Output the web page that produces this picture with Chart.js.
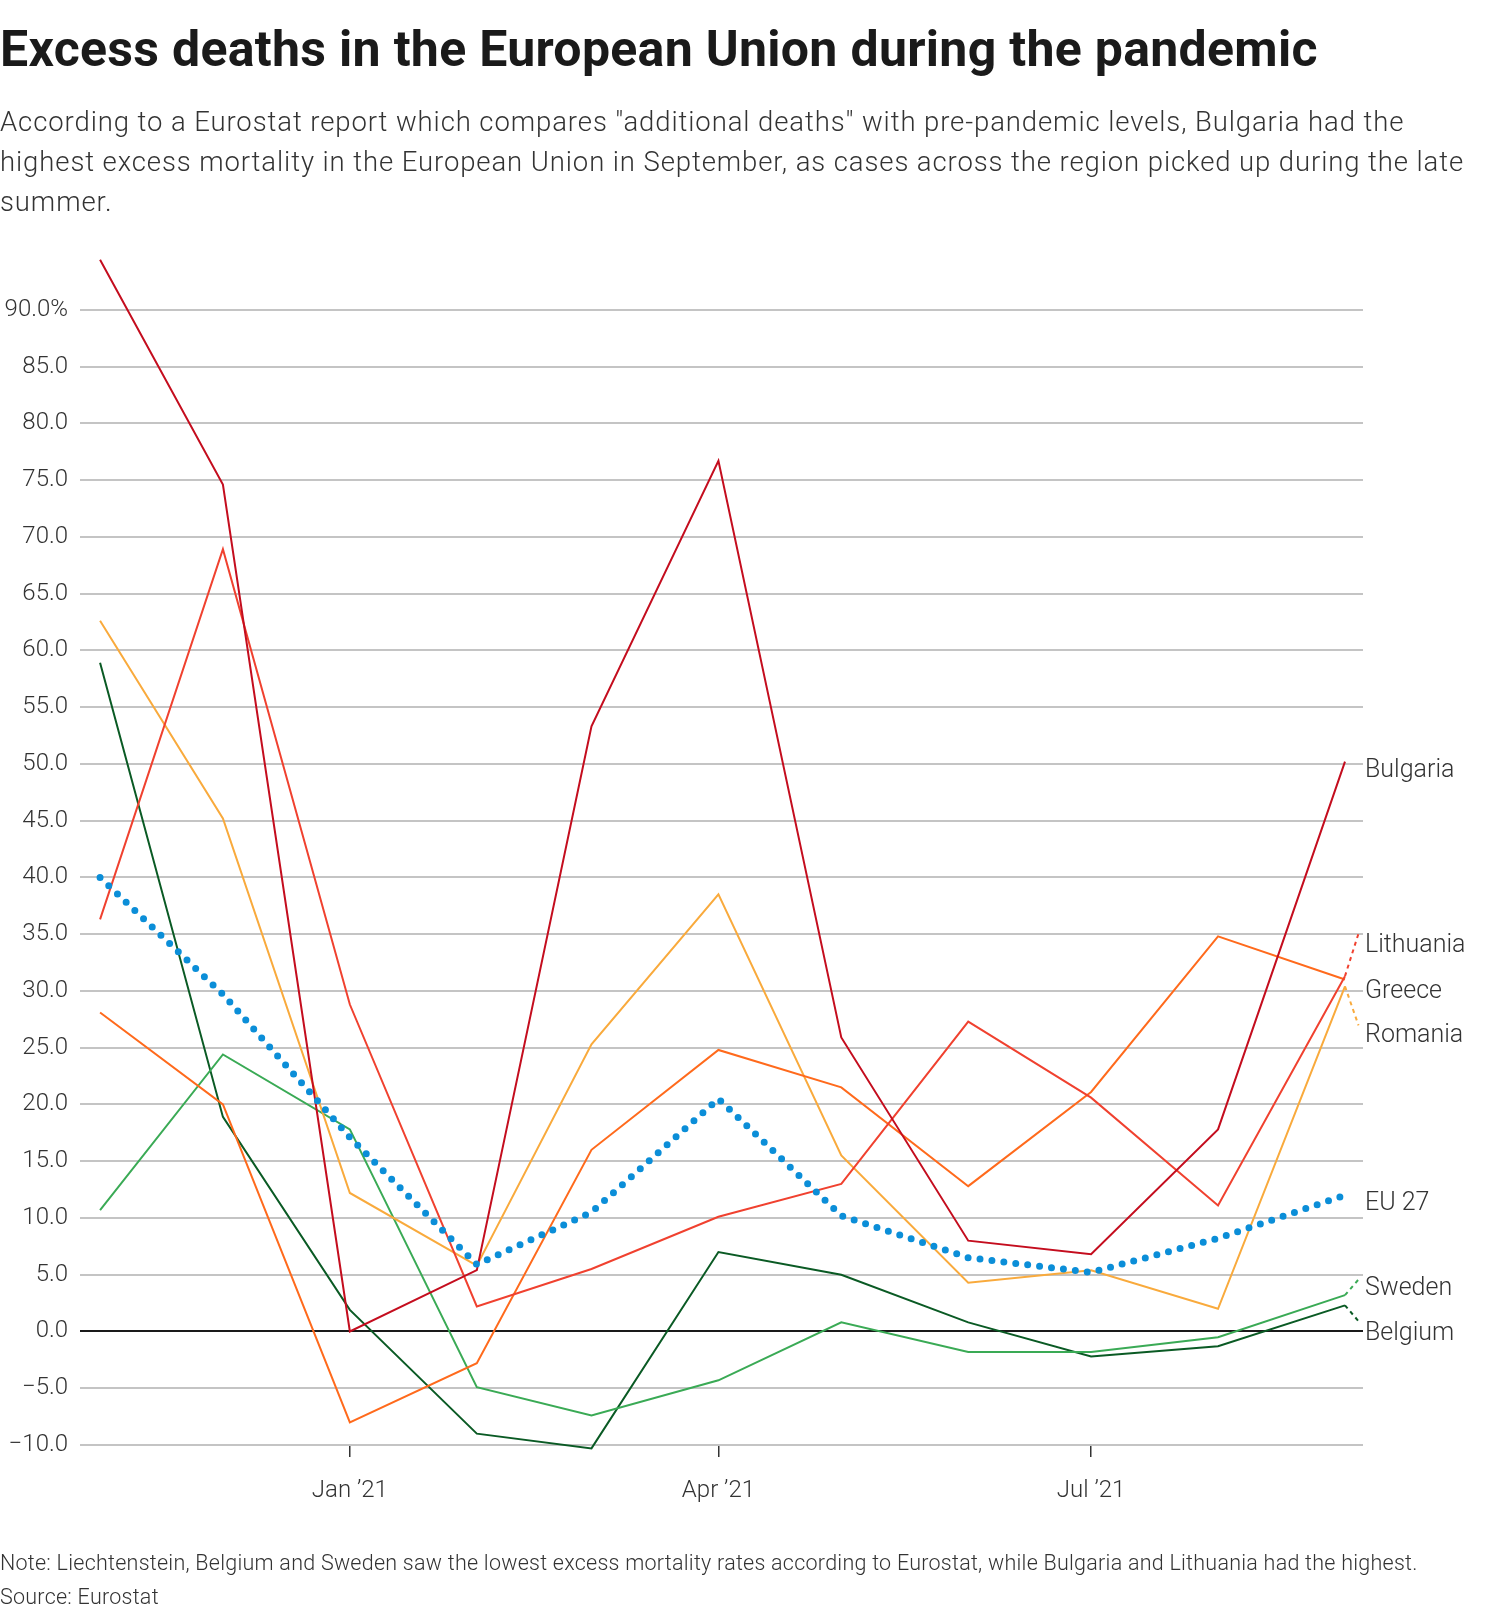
<!DOCTYPE html>
<html>
<head>
<meta charset="utf-8">
<script src="https://cdn.jsdelivr.net/npm/chart.js@4.4.0/dist/chart.umd.min.js"></script>
<style>
  html, body { margin: 0; padding: 0; background: #fff; }
  body { width: 1490px; height: 1616px; position: relative; overflow: hidden; font-family: Roboto, sans-serif; color: #333; }
  #chart { position: absolute; left: 0; top: 0; }
  .title { position: absolute; left: 0; top: 24px; font-size: 50px; line-height: 50px; font-weight: 700; letter-spacing: 0.3px; color: #1a1a1a; white-space: nowrap; }
  .sub { position: absolute; left: 0; top: 102px; font-size: 27.5px; line-height: 40px; font-weight: 300; letter-spacing: 0.9px; color: #333; white-space: nowrap; }
  .note { position: absolute; left: 0; top: 1546px; font-size: 21.5px; line-height: 34px; font-weight: 300; letter-spacing: 0.25px; color: #333; white-space: nowrap; }
</style>
</head>
<body>
<canvas id="chart" width="1490" height="1616"></canvas>
<div class="title">Excess deaths in the European Union during the pandemic</div>
<div class="sub">According to a Eurostat report which compares "additional deaths" with pre-pandemic levels, Bulgaria had the<br>highest excess mortality in the European Union in September, as cases across the region picked up during the late<br>summer.</div>
<div class="note">Note: Liechtenstein, Belgium and Sweden saw the lowest excess mortality rates according to Eurostat, while Bulgaria and Lithuania had the highest.<br>Source: Eurostat</div>
<script>
// monthly excess mortality, % above 2016-2019 average
const months = ['2020-11-01', '2020-12-01', '2021-01-01', '2021-02-01', '2021-03-01', '2021-04-01',
                '2021-05-01', '2021-06-01', '2021-07-01', '2021-08-01', '2021-09-01'];
const eu27      = [40.0, 29.7, 17.1, 5.9, 10.5, 20.5, 10.2, 6.5, 5.2, 8.2, 12.0];
const bulgaria  = [94.4, 74.6, 0.0, 5.4, 53.3, 76.7, 25.9, 8.0, 6.8, 17.8, 50.2];
const lithuania = [36.3, 68.9, 28.8, 2.2, 5.5, 10.1, 13.0, 27.3, 20.6, 11.1, 31.3];
const greece    = [28.1, 20.0, -8.0, -2.8, 16.0, 24.8, 21.5, 12.8, 21.1, 34.8, 31.0];
const romania   = [62.6, 45.2, 12.2, 5.8, 25.3, 38.5, 15.5, 4.3, 5.4, 2.0, 30.4];
const sweden    = [10.7, 24.4, 17.8, -4.9, -7.4, -4.3, 0.8, -1.8, -1.8, -0.5, 3.2];
const belgium   = [58.9, 18.9, 1.9, -9.0, -10.3, 7.0, 5.0, 0.8, -2.2, -1.3, 2.3];

const tickDates = ['2021-01-01', '2021-04-01', '2021-07-01'];
const tickLabels = ['Jan ’21', 'Apr ’21', 'Jul ’21'];

// end labels: name, value where the label sits, and where its leader line ends (null = none)
const labelNames  = ['Bulgaria', 'Lithuania', 'Greece', 'Romania', 'EU 27', 'Sweden', 'Belgium'];
const labelValues = [49.6, 34.25, 30.2, 26.3, 11.5, 4.0, 0.0];
const leaderEnds  = [null, 35.05, null, 26.97, null, 4.58, 0.91];

const colors = {
  eu27: '#0b8ed8', bulgaria: '#c40d1e', lithuania: '#f0412f', greece: '#ff6a1c',
  romania: '#f9aa3c', sweden: '#3aaa55', belgium: '#0a5a24'
};

const t0 = Date.parse('2020-11-01');
const day = d => (Date.parse(d) - t0) / 86400000;
const pts = vals => vals.map((v, i) => ({ x: day(months[i]), y: v }));
const lastDay = day(months[months.length - 1]);
const leaderDay = lastDay + 3.3;

const series = [
  ['EU 27', eu27, colors.eu27],
  ['Bulgaria', bulgaria, colors.bulgaria],
  ['Lithuania', lithuania, colors.lithuania],
  ['Greece', greece, colors.greece],
  ['Romania', romania, colors.romania],
  ['Sweden', sweden, colors.sweden],
  ['Belgium', belgium, colors.belgium]
];

const datasets = series.map(([name, vals, col]) => {
  const ds = { label: name, data: pts(vals), borderColor: col, borderWidth: 2, pointRadius: 0, tension: 0, fill: false, clip: false };
  if (name === 'EU 27') {
    ds.borderWidth = 7;
    ds.borderDash = [0, 12];
    ds.borderCapStyle = 'round';
  }
  return ds;
});

// dashed leader lines from last point to label
labelNames.forEach((name, i) => {
  if (leaderEnds[i] === null) return;
  const s = series.find(r => r[0] === name);
  datasets.push({
    label: name + ' leader',
    data: [{ x: lastDay, y: s[1][s[1].length - 1] }, { x: leaderDay, y: leaderEnds[i] }],
    borderColor: s[2], borderWidth: 2, borderDash: [4, 4], pointRadius: 0, fill: false, clip: false
  });
});

const endLabels = {
  id: 'endLabels',
  afterDatasetsDraw(chart) {
    const { ctx, chartArea, scales } = chart;
    ctx.save();
    ctx.font = '300 25px Roboto';
    ctx.fillStyle = '#333';
    ctx.textBaseline = 'alphabetic';
    ctx.textAlign = 'left';
    labelNames.forEach((name, i) => {
      const y = scales.y.getPixelForValue(labelValues[i]);
      ctx.fillText(name, chartArea.right + 2, y + 0.355 * 25);
    });
    ctx.restore();
  }
};

new Chart(document.getElementById('chart'), {
  type: 'line',
  data: { datasets: datasets },
  options: {
    responsive: false,
    animation: false,
    devicePixelRatio: 1,
    layout: { padding: { top: 253, right: 127, bottom: 111, left: 0 } },
    plugins: { legend: { display: false }, tooltip: { enabled: false } },
    scales: {
      x: {
        type: 'linear',
        min: -4.9,
        max: 308.4,
        afterBuildTicks: scale => { scale.ticks = tickDates.map(d => ({ value: day(d) })); },
        afterFit: scale => { scale.height = 60; },
        border: { display: false },
        grid: { drawOnChartArea: false, drawTicks: true, tickLength: 12, color: '#333', lineWidth: 1.5 },
        ticks: {
          autoSkip: false,
          maxRotation: 0,
          padding: 20,
          color: '#333',
          font: { family: 'Roboto', size: 24, weight: 300 },
          callback: (v) => tickLabels[tickDates.findIndex(d => day(d) === v)]
        }
      },
      y: {
        min: -10,
        max: 95,
        afterBuildTicks: scale => { scale.ticks = scale.ticks.filter(t => t.value <= 90); },
        afterFit: scale => { scale.width = 80; },
        border: { display: false },
        grid: {
          drawTicks: false,
          color: c => c.tick && c.tick.value === 0 ? '#1a1a1a' : '#c4c4c4',
          lineWidth: 2
        },
        ticks: {
          stepSize: 5,
          padding: 12,
          color: '#333',
          font: { family: 'Roboto', size: 24, weight: 300 },
          callback: v => {
            const s = Math.abs(v).toFixed(1);
            const txt = (v < 0 ? '\u2212' : '') + s;
            return v === 90 ? txt + '%' : txt;
          }
        }
      }
    }
  },
  plugins: [endLabels]
});
</script>
</body>
</html>
